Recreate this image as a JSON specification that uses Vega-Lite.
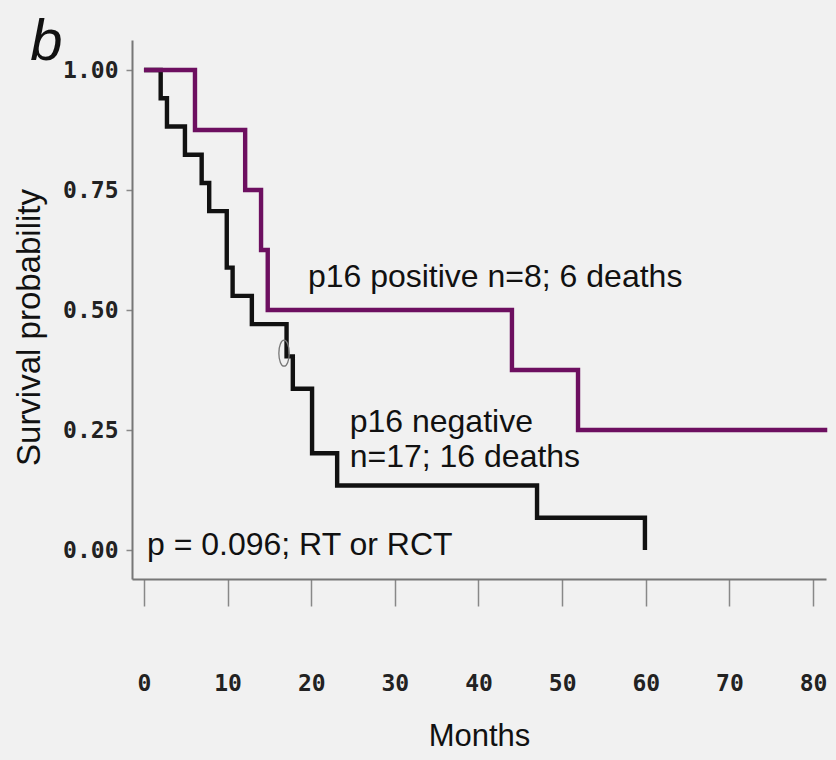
{
  "$schema": "https://vega.github.io/schema/vega-lite/v6.json",
  "width": 694,
  "height": 539,
  "autosize": {"type": "none"},
  "padding": {"left": 132, "top": 40, "right": 10, "bottom": 181},
  "background": "#f1f1f1",
  "config": {"view": {"stroke": null}, "font": "Liberation Sans"},
  "layer": [
    {
      "data": {
        "values": [
          {"group": "negative", "month": 0, "surv": 1},
          {"group": "negative", "month": 2.0, "surv": 0.9412},
          {"group": "negative", "month": 2.75, "surv": 0.8824},
          {"group": "negative", "month": 4.9, "surv": 0.8235},
          {"group": "negative", "month": 6.9, "surv": 0.7647},
          {"group": "negative", "month": 7.8, "surv": 0.7059},
          {"group": "negative", "month": 9.9, "surv": 0.5882},
          {"group": "negative", "month": 10.6, "surv": 0.5294},
          {"group": "negative", "month": 12.9, "surv": 0.4706},
          {"group": "negative", "month": 17.05, "surv": 0.4034},
          {"group": "negative", "month": 17.8, "surv": 0.3361},
          {"group": "negative", "month": 20.1, "surv": 0.2017},
          {"group": "negative", "month": 23.1, "surv": 0.1345},
          {"group": "negative", "month": 47.0, "surv": 0.0672},
          {"group": "negative", "month": 59.9, "surv": 0},
          {"group": "positive", "month": 0, "surv": 1},
          {"group": "positive", "month": 6.1, "surv": 0.875},
          {"group": "positive", "month": 12.1, "surv": 0.75},
          {"group": "positive", "month": 14.0, "surv": 0.625},
          {"group": "positive", "month": 14.8, "surv": 0.5},
          {"group": "positive", "month": 44.0, "surv": 0.375},
          {"group": "positive", "month": 51.9, "surv": 0.25},
          {"group": "positive", "month": 81.7, "surv": 0.25}
        ]
      },
      "mark": {"type": "line", "interpolate": "step-after", "strokeWidth": 4.4},
      "encoding": {
        "x": {
          "field": "month",
          "type": "quantitative",
          "scale": {"domain": [-1.43, 81.55], "nice": false, "zero": false},
          "axis": {
            "values": [0, 10, 20, 30, 40, 50, 60, 70, 80],
            "format": "d",
            "grid": false,
            "domainColor": "#777777",
            "domainWidth": 2,
            "tickColor": "#888888",
            "tickWidth": 1.5,
            "tickSize": 27,
            "labelPadding": 66,
            "labelFont": "DejaVu Sans Mono",
            "labelFontSize": 23,
            "labelFontWeight": "bold",
            "labelColor": "#222222",
            "labelFlush": false,
            "title": "Months",
            "titleFont": "Liberation Sans",
            "titleFontSize": 31,
            "titleFontWeight": "normal",
            "titleColor": "#111111",
            "titlePadding": 26
          }
        },
        "y": {
          "field": "surv",
          "type": "quantitative",
          "scale": {"domain": [-0.0604, 1.0625], "nice": false, "zero": false},
          "axis": {
            "values": [0, 0.25, 0.5, 0.75, 1],
            "format": ".2f",
            "grid": false,
            "domainColor": "#777777",
            "domainWidth": 2,
            "tickColor": "#888888",
            "tickWidth": 1.5,
            "tickSize": 6,
            "labelPadding": 8,
            "labelFont": "DejaVu Sans Mono",
            "labelFontSize": 23,
            "labelFontWeight": "bold",
            "labelColor": "#222222",
            "title": "Survival probability",
            "titleFont": "Liberation Sans",
            "titleFontSize": 33,
            "titleFontWeight": "normal",
            "titleColor": "#111111",
            "titlePadding": 16,
            "titleY": 287
          }
        },
        "color": {
          "field": "group",
          "type": "nominal",
          "scale": {"domain": ["negative", "positive"], "range": ["#111111", "#6d0f60"]},
          "legend": null
        }
      }
    },
    {
      "data": {"values": [{"month": 16.75, "surv": 0.41}]},
      "mark": {
        "type": "point",
        "shape": "M0,-1A0.4,1,0,1,1,0,1A0.4,1,0,1,1,0,-1Z",
        "size": 676,
        "filled": false,
        "stroke": "#777777",
        "strokeWidth": 1.3,
        "opacity": 1
      },
      "encoding": {
        "x": {"field": "month", "type": "quantitative"},
        "y": {"field": "surv", "type": "quantitative"}
      }
    },
    {
      "data": {
        "values": [
          {"month": 19.6, "surv": 0.548, "label": "p16 positive n=8; 6 deaths"},
          {"month": 24.6, "surv": 0.246, "label": "p16 negative"},
          {"month": 24.6, "surv": 0.173, "label": "n=17; 16 deaths"},
          {"month": 0.36, "surv": -0.01, "label": "p = 0.096; RT or RCT"}
        ]
      },
      "mark": {
        "type": "text",
        "align": "left",
        "baseline": "alphabetic",
        "font": "Liberation Sans",
        "fontSize": 32,
        "color": "#111111"
      },
      "encoding": {
        "x": {"field": "month", "type": "quantitative"},
        "y": {"field": "surv", "type": "quantitative"},
        "text": {"field": "label"}
      }
    },
    {
      "data": {"values": [{"month": -13.6, "surv": 1.02, "label": "b"}]},
      "mark": {
        "type": "text",
        "align": "left",
        "baseline": "alphabetic",
        "font": "Liberation Sans",
        "fontStyle": "italic",
        "fontSize": 58,
        "color": "#111111"
      },
      "encoding": {
        "x": {"field": "month", "type": "quantitative"},
        "y": {"field": "surv", "type": "quantitative"},
        "text": {"field": "label"}
      }
    }
  ]
}
